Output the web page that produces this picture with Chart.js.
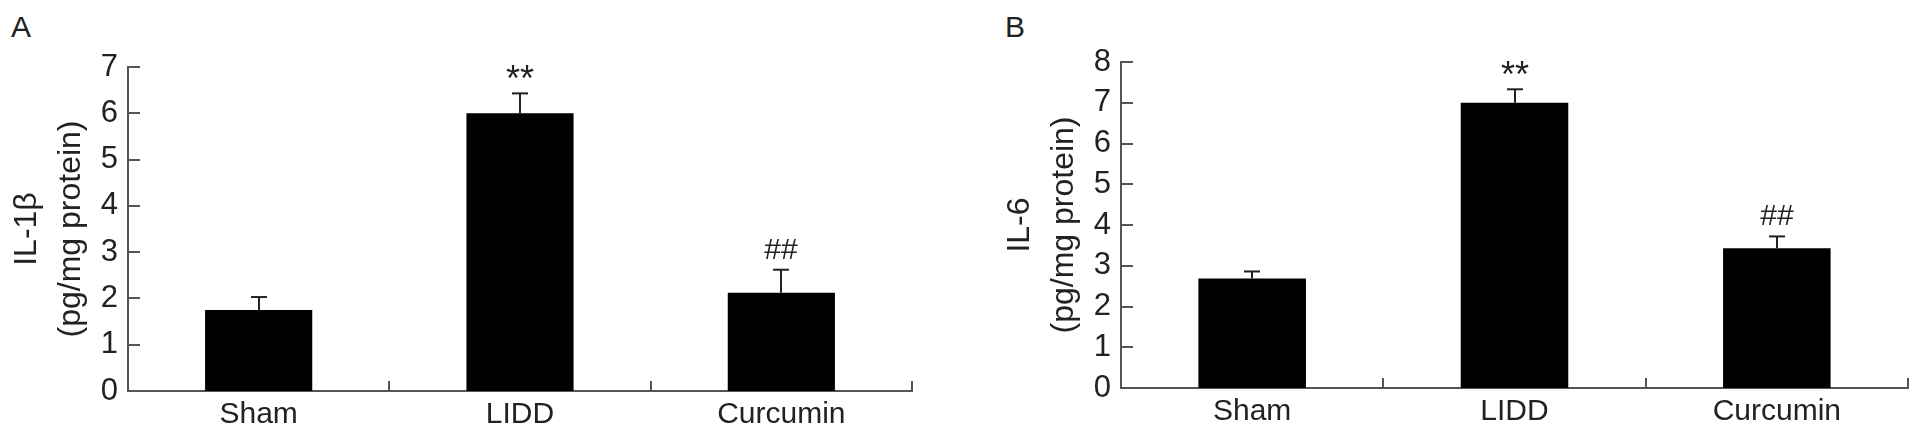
<!DOCTYPE html>
<html>
<head>
<meta charset="utf-8">
<script src="https://cdn.jsdelivr.net/npm/chart.js@4"></script>
<style>
  html, body { margin:0; padding:0; background:#fff; }
  body { width:1923px; height:439px; position:relative; overflow:hidden; font-family:'Liberation Sans', Arial, sans-serif; }
  .panel { position:absolute; top:0; width:930px; height:439px; }
  .letter { position:absolute; font-size:30px; line-height:30px; color:#222; }
</style>
</head>
<body>
<div class="letter" style="left:11px; top:12px;">A</div>
<div class="letter" style="left:1005px; top:12px;">B</div>
<div class="panel" style="left:0px;"><canvas id="chartA" width="930" height="439"></canvas></div>
<div class="panel" style="left:993px;"><canvas id="chartB" width="930" height="439"></canvas></div>
<script>
const categories = ['Sham', 'LIDD', 'Curcumin'];

const il1bMeans  = [1.75, 6.0, 2.12];
const il1bErrors = [0.28, 0.43, 0.50];
const il1bMarks  = ['', '**', '##'];
const il1bMax = 7;

const il6Means  = [2.69, 7.0, 3.43];
const il6Errors = [0.17, 0.33, 0.29];
const il6Marks  = ['', '**', '##'];
const il6Max = 8;

const FONT = "'Liberation Sans', Arial, sans-serif";
const AXIS = '#555';
const INK = '#222';

Chart.defaults.font.family = FONT;
Chart.defaults.color = INK;

// inward ticks, error bars and significance marks
const panelDecor = {
  id: 'panelDecor',
  afterDatasetsDraw(chart, args, o){
    const {ctx, chartArea: a, scales: {x, y}} = chart;
    ctx.save();
    ctx.strokeStyle = AXIS;
    ctx.lineWidth = 2;
    const line = (x1, y1, x2, y2) => { ctx.beginPath(); ctx.moveTo(x1, y1); ctx.lineTo(x2, y2); ctx.stroke(); };

    y.ticks.forEach(t => {
      const py = Math.round(y.getPixelForValue(t.value));
      if(t.value > 0) line(a.left, py, a.left + 12, py);
    });
    for(let i = 1; i <= categories.length; i++){
      const px = Math.round(x.getPixelForValue(i - 0.5));
      line(px, a.bottom, px, a.bottom - 10);
    }

    ctx.strokeStyle = INK;
    const meta = chart.getDatasetMeta(0);
    meta.data.forEach((bar, i) => {
      const bx = Math.round(bar.x);
      const top = y.getPixelForValue(o.means[i] + o.errors[i]);
      line(bx, bar.y, bx, top);
      line(bx - 8, top, bx + 8, top);

      const mark = o.marks[i];
      if(mark){
        ctx.fillStyle = INK;
        ctx.font = (mark === '**' ? '36px ' : '30px ') + FONT;
        ctx.textAlign = 'center';
        ctx.textBaseline = 'alphabetic';
        const m = ctx.measureText(mark);
        const cy = top - 21;
        ctx.fillText(mark, bx, cy + (m.actualBoundingBoxAscent - m.actualBoundingBoxDescent) / 2);
      }
    });
    ctx.restore();
  }
};

function makeChart(id, means, errors, marks, yMax, yTitle, pad, xHeight){
  return new Chart(document.getElementById(id), {
    type: 'bar',
    data: {
      labels: categories,
      datasets: [{ data: means, backgroundColor: '#000', borderWidth: 0,
                   barPercentage: 0.41, categoryPercentage: 1 }]
    },
    options: {
      responsive: false,
      animation: false,
      devicePixelRatio: 1,
      layout: { padding: pad },
      plugins: {
        legend: { display: false },
        tooltip: { enabled: false },
        panelDecor: { means, errors, marks }
      },
      scales: {
        x: {
          offset: true,
          grid: { display: false, drawTicks: false, offset: true },
          border: { display: true, color: AXIS, width: 2 },
          ticks: { font: { size: 30 }, color: INK, padding: 6 },
          afterFit: s => { s.height = xHeight; }
        },
        y: {
          min: 0, max: yMax,
          grid: { display: false, drawTicks: false },
          border: { display: true, color: AXIS, width: 2 },
          ticks: { stepSize: 1, font: { size: 31 }, color: INK, padding: 10 },
          title: { display: true, text: yTitle, font: { size: 32, lineHeight: 1.375 }, color: INK, padding: { top: 5, bottom: 0 } },
          afterFit: s => { s.width = 128; }
        }
      }
    },
    plugins: [panelDecor]
  });
}

makeChart('chartA', il1bMeans, il1bErrors, il1bMarks, il1bMax, ['IL-1\u03b2', '(pg/mg protein)'],
          { top: 67, right: 18, left: 0, bottom: 0 }, 48);
makeChart('chartB', il6Means, il6Errors, il6Marks, il6Max, ['IL-6', '(pg/mg protein)'],
          { top: 62, right: 15, left: 0, bottom: 0 }, 51);
</script>
</body>
</html>
